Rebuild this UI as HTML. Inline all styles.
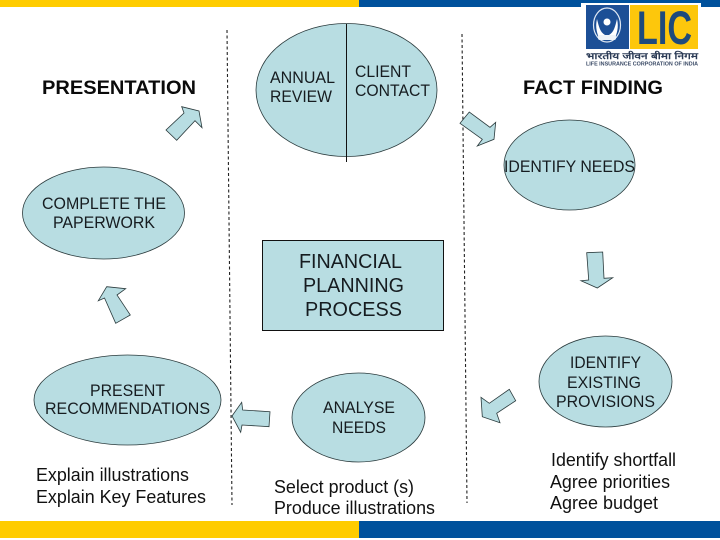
<!DOCTYPE html>
<html lang="en">
<head>
<meta charset="utf-8">
<title>Financial Planning Process</title>
<style>
html,body{margin:0;padding:0;background:#fff;width:720px;height:540px;overflow:hidden}
svg{display:block}
text{font-family:"Liberation Sans",sans-serif;fill:#161c20}
.n{font-size:16.500px}
.l{font-size:18px;fill:#111}
.c{font-size:20px}
.h{font-size:19px;font-weight:bold;fill:#0a0a0a}
.s{fill:#b8dde2;stroke:#2a3a3c;stroke-width:.8}
.d{stroke:#222;stroke-width:1.100;stroke-dasharray:3 2.500;fill:none}
</style>
</head>
<body>
<svg width="720" height="540" viewBox="0 0 720 540" xmlns="http://www.w3.org/2000/svg">
<rect width="720" height="540" fill="#fff"/>
<rect x="0" y="0" width="359" height="7" fill="#ffcc00"/>
<rect x="359" y="0" width="361" height="7" fill="#00519c"/>
<rect x="0" y="521" width="359" height="17" fill="#ffcc00"/>
<rect x="359" y="521" width="361" height="17" fill="#00519c"/>

<!-- dashed dividers -->
<line class="d" x1="227" y1="30" x2="232" y2="505"/>
<line class="d" x1="462" y1="34" x2="467" y2="503"/>

<!-- logo -->
<rect x="581" y="3" width="120" height="66" fill="#fff"/>
<rect x="586" y="5" width="43" height="44" fill="#1c4f96"/>
<rect x="630" y="5" width="68" height="44" fill="#fdc70c"/>
<ellipse cx="607" cy="25" rx="13.500" ry="17" fill="none" stroke="#dfe8f3" stroke-width="1.200"/>
<path d="M597 19c2 8 3 13 8 16v5h-5c-3-6-5-13-3-21zM617 19c-2 8-3 13-8 16v5h5c3-6 5-13 3-21z" fill="#fff"/>
<circle cx="607" cy="22" r="3.500" fill="#fff"/>
<rect x="598" y="35" width="18" height="5" rx="2" fill="#eef3f8"/>
<text x="637" y="44" font-size="47" font-weight="bold" textLength="55" lengthAdjust="spacingAndGlyphs" style="fill:#1e4a7c">LIC</text>
<text x="586" y="59" font-size="9" font-weight="bold" textLength="112" lengthAdjust="spacingAndGlyphs" style="fill:#2a3a55">भारतीय जीवन बीमा निगम</text>
<text x="586" y="65.500" font-size="5.500" font-weight="bold" textLength="112" lengthAdjust="spacingAndGlyphs" style="fill:#3a4a66">LIFE INSURANCE CORPORATION OF INDIA</text>

<!-- headings -->
<text class="h" x="42" y="94" textLength="154" lengthAdjust="spacingAndGlyphs">PRESENTATION</text>
<text class="h" x="523" y="94" textLength="140" lengthAdjust="spacingAndGlyphs">FACT FINDING</text>

<!-- nodes -->
<ellipse class="s" cx="346.500" cy="90" rx="90.500" ry="66.500"/>
<line x1="346.500" y1="24" x2="346.500" y2="162" stroke="#111" stroke-width="1"/>
<ellipse class="s" cx="569.500" cy="165" rx="65.500" ry="45"/>
<ellipse class="s" cx="103.500" cy="213" rx="81" ry="46"/>
<ellipse class="s" cx="127.500" cy="400" rx="93.500" ry="45"/>
<ellipse class="s" cx="358.500" cy="417.500" rx="66.500" ry="44.500"/>
<ellipse class="s" cx="605.500" cy="381.500" rx="66.500" ry="45.500"/>
<rect x="262.500" y="240.500" width="181" height="90" fill="#b8dde2" stroke="#111" stroke-width="1"/>

<!-- arrows -->
<polygon class="s" points="181.700,106.700 199,111 202,127.700 195,120.700 176.700,140.300 166,130 184,113"/>
<polygon class="s" points="106.700,286.700 125.700,288.700 117,295 130.300,315 115.700,323.300 104.500,298 98.300,300.700"/>
<polygon class="s" points="232,416 241.700,402.300 242.700,410 270,411.700 269,426.700 242,425 240.700,432.300"/>
<polygon class="s" points="481,397.300 489.300,403.300 509.300,389.300 515.700,400.700 496.700,413.300 500,422.700 482.300,416.700"/>
<polygon class="s" points="586.700,252.700 602.700,252 604,278.300 612.700,277.700 597.300,288 581,280.700 588.700,280"/>
<polygon class="s" points="469.300,112 460,123.300 482.300,139.300 477.300,146 494,139.300 495.700,122.300 490,127.300"/>

<!-- node labels -->
<text class="n" x="270" y="83" textLength="65" lengthAdjust="spacingAndGlyphs">ANNUAL</text>
<text class="n" x="270" y="102" textLength="62" lengthAdjust="spacingAndGlyphs">REVIEW</text>
<text class="n" x="355" y="77" textLength="56" lengthAdjust="spacingAndGlyphs">CLIENT</text>
<text class="n" x="355" y="96" textLength="75" lengthAdjust="spacingAndGlyphs">CONTACT</text>
<text class="n" x="504" y="172" textLength="131" lengthAdjust="spacingAndGlyphs">IDENTIFY NEEDS</text>
<text class="n" x="42" y="209" textLength="124" lengthAdjust="spacingAndGlyphs">COMPLETE THE</text>
<text class="n" x="53" y="228" textLength="102" lengthAdjust="spacingAndGlyphs">PAPERWORK</text>
<text class="n" x="90" y="396" textLength="75" lengthAdjust="spacingAndGlyphs">PRESENT</text>
<text class="n" x="45" y="414" textLength="165" lengthAdjust="spacingAndGlyphs">RECOMMENDATIONS</text>
<text class="n" x="323" y="413" textLength="72" lengthAdjust="spacingAndGlyphs">ANALYSE</text>
<text class="n" x="332" y="433" textLength="54" lengthAdjust="spacingAndGlyphs">NEEDS</text>
<text class="n" x="570" y="368" textLength="71" lengthAdjust="spacingAndGlyphs">IDENTIFY</text>
<text class="n" x="567" y="388" textLength="74" lengthAdjust="spacingAndGlyphs">EXISTING</text>
<text class="n" x="556" y="407" textLength="99" lengthAdjust="spacingAndGlyphs">PROVISIONS</text>
<text class="c" x="299" y="268" textLength="103" lengthAdjust="spacingAndGlyphs">FINANCIAL</text>
<text class="c" x="303" y="292" textLength="101" lengthAdjust="spacingAndGlyphs">PLANNING</text>
<text class="c" x="305" y="316" textLength="97" lengthAdjust="spacingAndGlyphs">PROCESS</text>

<!-- notes -->
<text class="l" x="36" y="481" textLength="153" lengthAdjust="spacingAndGlyphs">Explain illustrations</text>
<text class="l" x="36" y="503" textLength="170" lengthAdjust="spacingAndGlyphs">Explain Key Features</text>
<text class="l" x="274" y="493" textLength="140" lengthAdjust="spacingAndGlyphs">Select product (s)</text>
<text class="l" x="274" y="514" textLength="161" lengthAdjust="spacingAndGlyphs">Produce illustrations</text>
<text class="l" x="551" y="466" textLength="125" lengthAdjust="spacingAndGlyphs">Identify shortfall</text>
<text class="l" x="550" y="488" textLength="120" lengthAdjust="spacingAndGlyphs">Agree priorities</text>
<text class="l" x="550" y="509" textLength="108" lengthAdjust="spacingAndGlyphs">Agree budget</text>
</svg>
</body>
</html>
